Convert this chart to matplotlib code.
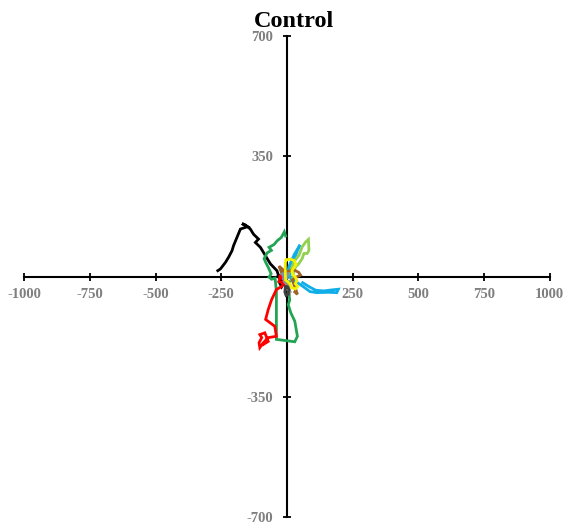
import matplotlib
matplotlib.use("Agg")
import matplotlib.pyplot as plt

# Cell migration tracks (micrometres), each starting near the origin
black_x = [0, -20, -30, -15, -35, -25, -38, -63, -82, -101, -120, -108, -127, -139, -158, -171, -150, -177, -190, -203, -209, -222, -234, -253, -263]
black_y = [-5, -30, -15, -5, 5, -12, 17, 37, 61, 85, 99, 109, 123, 138, 150, 154, 145, 138, 114, 90, 75, 56, 41, 22, 17]

red_x = [0, -15, -25, -30, -10, -8, -20, -40, -58, -71, -81, -46, -40, -71, -90, -103, -106, -96, -103, -84, -71, -90]
red_y = [0, -10, 5, -15, -20, -14, -29, -38, -67, -96, -125, -145, -174, -178, -193, -207, -193, -178, -169, -164, -189, -198]

green_x = [-5, -10, -21, -37, -49, -68, -59, -75, -87, -80, -70, -60, -68, -58, -45, -40, -40, -40, 30, 40, 30, 15, 5, 11, 5, 10]
green_y = [118, 130, 114, 104, 93, 85, 76, 69, 52, 40, 25, 8, -2, -8, -5, -43, -110, -183, -190, -174, -130, -106, -82, -68, -40, -15]

blue_x = [0, 8, 28, 50, 40, 20, 10, 19, 40, 63, 88, 114, 158, 190, 196, 171, 140, 110, 85, 60]
blue_y = [0, 30, 64, 92, 75, 35, 0, -10, -18, -30, -44, -47, -46, -47, -37, -39, -42, -40, -30, -18]

lime_x = [0, 15, 27, 46, 58, 71, 82, 84, 77, 65, 58, 46, 33, 25, 20]
lime_y = [0, 20, 43, 62, 86, 100, 108, 76, 67, 67, 52, 38, 28, 10, -10]

yellow_x = [-3, 13, 28, 35, 28, 19, 23, 32, 38, 32, 41, 32, 19, 10, -5, -6, -6, -3]
yellow_y = [48, 51, 46, 35, 27, 17, 6, -2, -12, -21, -29, -36, -33, -20, -10, 10, 40, 48]

brown_x = [0, -15, -30, -20, 5, 25, 45, 52, 40, 20, 35, 40, 30]
brown_y = [0, 20, 30, 10, 15, 20, 12, 4, 0, -10, -40, -52, -45]

gray_x = [0, -10, 5, -5, 10, 0]
gray_y = [0, -15, -25, -35, -40, -20]

slate_x = [0, -19, -10, -15, 0, 5]
slate_y = [0, 10, -5, -10, -5, 8]

dark_x = [-5, -8, -3, 5, 8, 2, -5]
dark_y = [-30, -45, -55, -52, -38, -30, -30]

tracks = [
    (black_x, black_y, "#000000"),
    (green_x, green_y, "#23A455"),
    (red_x, red_y, "#FF0000"),
    (blue_x, blue_y, "#10AEE8"),
    (lime_x, lime_y, "#92D050"),
    (brown_x, brown_y, "#A0622D"),
    (gray_x, gray_y, "#8C8C8C"),
    (slate_x, slate_y, "#7F8FB0"),
    (dark_x, dark_y, "#404040"),
    (yellow_x, yellow_y, "#F2F200"),
]

x_ticks = [-1000, -750, -500, -250, 0, 250, 500, 750, 1000]
y_ticks = [-700, -350, 350, 700]

W, H = 564, 527
fig = plt.figure(figsize=(W / 100, H / 100), dpi=100)
ax = fig.add_axes([24.2 / W, 10 / H, 525.4 / W, 481 / H])

for xs, ys, col in tracks:
    ax.plot(xs, ys, color=col, lw=2.0, zorder=3, solid_joinstyle="miter")

ax.set_xlim(-1000, 1000)
ax.set_ylim(-700, 700)

for side in ("top", "right"):
    ax.spines[side].set_visible(False)
ax.spines["left"].set_position(("data", 0))
ax.spines["bottom"].set_position(("data", 0))
for side in ("left", "bottom"):
    ax.spines[side].set_linewidth(1.5)
    ax.spines[side].set_color("black")
    ax.spines[side].set_zorder(2)

label_font = dict(family="Liberation Serif", weight="bold", size=10.5)
ax.set_xticks(x_ticks)
ax.set_xticklabels([str(v) for v in x_ticks], color="#7F7F7F", **label_font)
ax.set_yticks(y_ticks)
ax.set_yticklabels([str(v) for v in y_ticks], color="#7F7F7F", **label_font)
ax.tick_params(axis="both", direction="inout", length=6, width=1.3, color="black")
ax.tick_params(axis="x", pad=5)
ax.tick_params(axis="y", pad=7)

fig.text(294 / W, 1 - 27 / H, "Control", ha="center", va="baseline",
         family="Liberation Serif", weight="bold", size=17.5)

fig.savefig("out.png", dpi=100)
